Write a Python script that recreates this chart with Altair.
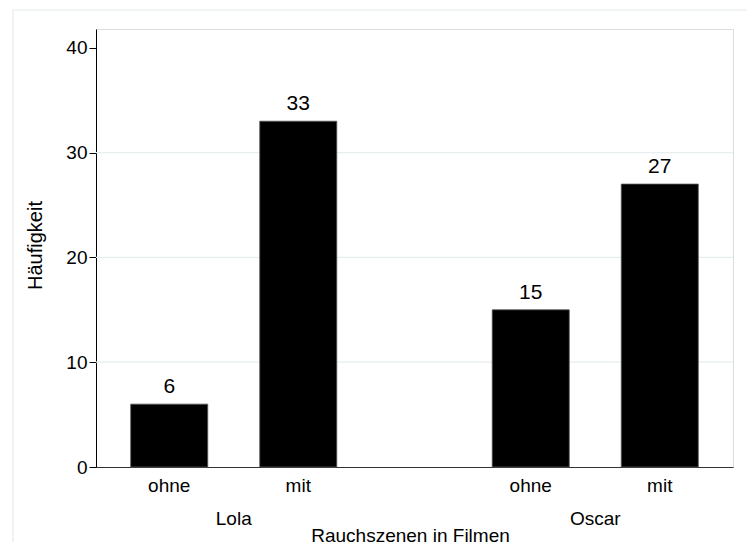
import altair as alt
import pandas as pd

films = ["Lola", "Lola", "Oscar", "Oscar"]
rauch = ["ohne", "mit", "ohne", "mit"]
counts = [6, 33, 15, 27]
grid_values = [10, 20, 30]
y_ticks = [0, 10, 20, 30, 40]

df = pd.DataFrame({"film": films, "rauch": rauch, "count": counts})
grid_df = pd.DataFrame({"g": grid_values})

W, H = 637, 438
FONT = "Liberation Sans"

xenc = alt.X(
    "film:N",
    sort=["Lola", "Oscar"],
    scale=alt.Scale(paddingInner=0.238, paddingOuter=0),
    axis=alt.Axis(
        title="Rauchszenen in Filmen",
        labelAngle=0,
        ticks=False,
        tickSize=0,
        labelPadding=57,
        labelBaseline="alphabetic",
        labelFontSize=19,
        labelColor="black",
        labelFont=FONT,
        domainColor="#333333",
        domainWidth=1,
        titleFontSize=19,
        titleFont=FONT,
        titleFontWeight="normal",
        titleColor="black",
        titleBaseline="alphabetic",
        titleX=314,
        titleY=74,
        grid=False,
    ),
)
xoff = alt.XOffset(
    "rauch:N",
    sort=["ohne", "mit"],
    scale=alt.Scale(paddingInner=0.403, paddingOuter=0.269),
)
yenc = alt.Y(
    "count:Q",
    scale=alt.Scale(domain=[0, 41.8], nice=False),
    axis=alt.Axis(
        title="Häufigkeit",
        values=y_ticks,
        grid=False,
        tickSize=7,
        tickColor="black",
        labelPadding=2,
        labelFontSize=19,
        labelFont=FONT,
        labelColor="black",
        domainColor="black",
        titleFontSize=20,
        titleFont=FONT,
        titleFontWeight="normal",
        titleColor="black",
        titleAngle=270,
        titleAlign="center",
        titleBaseline="alphabetic",
        titleX=-55,
        titleY=216,
    ),
)

frame = alt.Chart(alt.Data(values=[{"a": 1}])).mark_rect(
    fill=None, stroke="#e4ecee", strokeWidth=1.2, clip=False
).encode(
    x=alt.value(-83), x2=alt.value(655), y=alt.value(-19), y2=alt.value(540)
)

grid = alt.Chart(grid_df).mark_rule(color="#e6eef0", strokeWidth=1.2).encode(
    y=alt.Y("g:Q", scale=alt.Scale(domain=[0, 41.8], nice=False))
)

bars = alt.Chart(df).mark_bar(color="black", stroke="#555555", strokeWidth=0.8).encode(
    x=xenc, xOffset=xoff, y=yenc
)

values = alt.Chart(df).mark_text(
    baseline="alphabetic", dy=-11, fontSize=21, font=FONT, color="black"
).encode(x=xenc, xOffset=xoff, y=yenc, text="count:Q")

cat_labels = alt.Chart(df).mark_text(
    baseline="alphabetic", fontSize=19, font=FONT, color="black"
).encode(x=xenc, xOffset=xoff, y=alt.value(H + 25), text="rauch:N")

chart = alt.layer(frame, grid, bars, values, cat_labels).properties(
    width=W,
    height=H,
    autosize=alt.AutoSizeParams(type="none"),
    padding={"left": 88, "top": 21, "right": 14, "bottom": 75},
).configure_view(stroke=None).configure(background="white")

chart.save("out.html", embed_options={"renderer": "svg", "actions": False})
